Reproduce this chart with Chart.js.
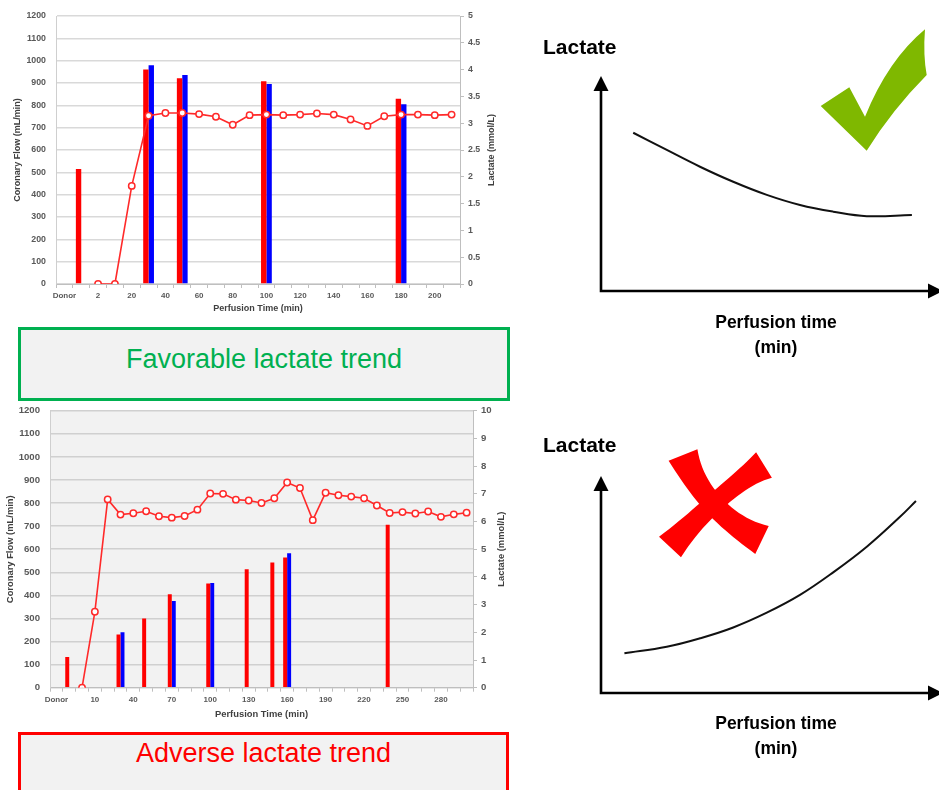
<!DOCTYPE html>
<html>
<head>
<meta charset="utf-8">
<script src="https://cdn.jsdelivr.net/npm/chart.js@4.4.0/dist/chart.umd.min.js"></script>
<style>
  body { margin: 0; width: 939px; height: 790px; overflow: hidden; position: relative; background: #fff;
         font-family: "Liberation Sans", Arial, sans-serif; }
  canvas { position: absolute; }
  .box { position: absolute; box-sizing: border-box; background: #f2f2f2; border: 3px solid; }
  .box div { position: absolute; left: 0; right: 0; text-align: center; font-size: 27px; line-height: 27px; }
  .lbl { position: absolute; font-weight: bold; color: #000; white-space: nowrap; }
</style>
</head>
<body>
<canvas id="favChart" width="500" height="320" style="left:0;top:0"></canvas>
<canvas id="advChart" width="520" height="330" style="left:0;top:395px"></canvas>
<canvas id="favSketch" width="439" height="395" style="left:500px;top:0"></canvas>
<canvas id="advSketch" width="439" height="395" style="left:500px;top:395px"></canvas>

<div class="box" style="left:18px;top:327px;width:492px;height:74px;border-color:#00b050">
  <div style="top:16px;color:#00b050">Favorable lactate trend</div>
</div>
<div class="box" style="left:18px;top:732px;width:491px;height:80px;border-color:#ff0000">
  <div style="top:5px;color:#ff0000">Adverse lactate trend</div>
</div>

<div class="lbl" style="left:543px;top:36px;font-size:21px;line-height:21px">Lactate</div>
<div class="lbl" style="left:676px;top:310px;width:200px;text-align:center;font-size:17.5px;line-height:25px">Perfusion time<br>(min)</div>
<div class="lbl" style="left:543px;top:434px;font-size:21px;line-height:21px">Lactate</div>
<div class="lbl" style="left:676px;top:711px;width:200px;text-align:center;font-size:17.5px;line-height:25px">Perfusion time<br>(min)</div>

<script>
// favorable case (top)
const favLabels = ['Donor', '0', '2', '10', '20', '30', '40', '50', '60', '70', '80', '90', '100',
  '110', '120', '130', '140', '150', '160', '170', '180', '190', '200', '210'];
const favRed = [null, 515, null, null, null, 961, null, 921, null, null, null, null, 908,
  null, null, null, null, null, null, null, 830, null, null, null];
const favBlue = [null, null, null, null, null, 979, null, 936, null, null, null, null, 896,
  null, null, null, null, null, null, null, 805, null, null, null];
const favLactate = [null, null, 0, 0, 1.83, 3.14, 3.19, 3.19, 3.17, 3.12, 2.97, 3.15, 3.16,
  3.15, 3.16, 3.18, 3.16, 3.07, 2.95, 3.13, 3.16, 3.16, 3.15, 3.16];

// adverse case (bottom)
const advLabels = ['Donor', '0', '5', '10', '20', '30', '40', '50', '60', '70', '80', '90', '100',
  '110', '120', '130', '140', '150', '160', '170', '180', '190', '200', '210', '220', '230', '240',
  '250', '260', '270', '280', '290', '300'];
const advRed = [null, 133, null, null, null, 230, null, 300, null, 405, null, null, 452,
  null, null, 513, null, 543, 564, null, null, null, null, null, null, null, 706,
  null, null, null, null, null, null];
const advBlue = [null, null, null, null, null, 240, null, null, null, 376, null, null, 454,
  null, null, null, null, null, 583, null, null, null, null, null, null, null, null,
  null, null, null, null, null, null];
const advLactate = [null, null, 0, 2.74, 6.8, 6.25, 6.3, 6.37, 6.19, 6.14, 6.2, 6.43, 7.01,
  7.0, 6.79, 6.76, 6.67, 6.84, 7.41, 7.21, 6.05, 7.04, 6.95, 6.9, 6.84, 6.58, 6.31,
  6.34, 6.29, 6.36, 6.17, 6.26, 6.32];

// schematic curves (arbitrary units 0-100)
const goodX = [9.8, 19.7, 29.5, 39.3, 49.2, 59, 68.8, 78.7, 92];
const goodY = [73.6, 65.6, 57.8, 50.8, 44.7, 40, 36.9, 34.8, 35.3];
const badX = [7.2, 19.7, 29.5, 39.3, 49.2, 59, 68.8, 78.7, 88.5, 93.2];
const badY = [18.3, 21.3, 25.2, 30.2, 37.0, 45.2, 55.6, 67.4, 81.2, 88.5];

Chart.defaults.font.family = '"Liberation Sans", Arial, sans-serif';

function flowChart(id, o) {
  const rightTitle = {
    id: 'rightTitle',
    afterDraw(chart) {
      const { ctx, chartArea } = chart;
      ctx.save();
      ctx.translate(o.rTitleX, (chartArea.top + chartArea.bottom) / 2);
      ctx.rotate(-Math.PI / 2);
      ctx.font = 'bold ' + o.titleSize + 'px "Liberation Sans"';
      ctx.fillStyle = '#404040';
      ctx.textAlign = 'center';
      ctx.textBaseline = 'middle';
      ctx.fillText('Lactate (mmol/L)', 0, 0);
      ctx.restore();
    }
  };
  const plotBg = {
    id: 'plotBg',
    beforeDraw(chart) {
      if (!o.bg) return;
      const { ctx, chartArea: a } = chart;
      ctx.fillStyle = o.bg;
      ctx.fillRect(a.left, a.top, a.right - a.left, a.bottom - a.top);
    }
  };
  new Chart(document.getElementById(id), {
    type: 'bar',
    data: {
      labels: o.labels,
      datasets: [
        { type: 'line', data: o.lactate, yAxisID: 'y1', order: 0, borderColor: '#ff2a2a', borderWidth: 1.6,
          pointRadius: 3.2, pointBorderWidth: 1.5, pointBackgroundColor: '#fff', pointBorderColor: '#ff2a2a' },
        { data: o.red, backgroundColor: '#ff0000', order: 1, barPercentage: 1, categoryPercentage: o.cat },
        { data: o.blue, backgroundColor: '#0000ff', order: 2, barPercentage: 1, categoryPercentage: o.cat }
      ]
    },
    options: {
      responsive: false,
      animation: false,
      layout: { padding: { top: o.padTop } },
      plugins: { legend: { display: false }, tooltip: { enabled: false } },
      scales: {
        x: {
          afterFit(s) { s.height = o.xH; },
          grid: { drawOnChartArea: false, tickLength: 4, color: '#bfbfbf' },
          border: { color: '#bfbfbf' },
          ticks: {
            autoSkip: false, maxRotation: 0, minRotation: 0, padding: 3, color: '#595959',
            font: { size: 8, weight: 'bold' },
            callback(v, i) { return i % o.step === 0 ? o.labels[i] : ''; }
          },
          title: { display: true, text: 'Perfusion Time (min)', color: '#404040',
            font: { size: o.titleSize, weight: 'bold' }, padding: { top: 0, bottom: o.xTitlePad } }
        },
        y: {
          afterFit(s) { s.width = o.leftW; },
          min: 0, max: 1200,
          grid: { drawTicks: false, color: o.grid, lineWidth: 1.5 },
          border: { color: '#cfcfcf' },
          ticks: { stepSize: 100, padding: 10, color: '#595959', font: { size: o.tickSize, weight: 'bold' },
            callback: v => String(v) },
          title: { display: true, text: 'Coronary Flow (mL/min)', color: '#404040',
            font: { size: o.titleSize, weight: 'bold' }, padding: { top: o.yTitlePad, bottom: 0 } }
        },
        y1: {
          position: 'right',
          afterFit(s) { s.width = o.rightW; },
          min: 0, max: o.lacMax,
          grid: { drawOnChartArea: false, tickLength: 4, color: '#bfbfbf' },
          border: { color: '#bfbfbf' },
          ticks: { stepSize: o.lacStep, padding: 4, color: '#595959', font: { size: o.tickSize, weight: 'bold' },
            callback: v => String(v) }
        }
      }
    },
    plugins: [plotBg, rightTitle]
  });
}

flowChart('favChart', {
  labels: favLabels, red: favRed, blue: favBlue, lactate: favLactate,
  cat: 0.64, padTop: 16, xH: 36, leftW: 56, rightW: 40, step: 2,
  lacMax: 5, lacStep: 0.5, tickSize: 8.8, titleSize: 9, xTitlePad: 5.6, yTitlePad: 12,
  rTitleX: 492, grid: '#d9d9d9', bg: null
});
flowChart('advChart', {
  labels: advLabels, red: advRed, blue: advBlue, lactate: advLactate,
  cat: 0.62, padTop: 12.7, xH: 37.3, leftW: 50, rightW: 47, step: 3,
  lacMax: 10, lacStep: 1, tickSize: 9.6, titleSize: 9.4, xTitlePad: 5.3, yTitlePad: 4.6,
  rTitleX: 501.7, grid: '#d0d0d0', bg: '#f2f2f2'
});

// arrows for the schematic axes
const arrowAxes = {
  id: 'arrowAxes',
  afterDraw(chart) {
    const { ctx, chartArea: a } = chart;
    const x0 = a.left + 1, y0 = a.bottom;
    ctx.save();
    ctx.strokeStyle = '#000';
    ctx.fillStyle = '#000';
    ctx.lineWidth = 2.6;
    ctx.beginPath();
    ctx.moveTo(x0, y0);
    ctx.lineTo(x0, a.top + 12);
    ctx.moveTo(x0 - 1.3, y0);
    ctx.lineTo(a.right - 10, y0);
    ctx.stroke();
    ctx.beginPath();
    ctx.moveTo(x0, a.top);
    ctx.lineTo(x0 - 7.5, a.top + 15);
    ctx.lineTo(x0 + 7.5, a.top + 15);
    ctx.closePath();
    ctx.fill();
    ctx.beginPath();
    ctx.moveTo(a.right + 4, y0);
    ctx.lineTo(a.right - 11, y0 - 7.5);
    ctx.lineTo(a.right - 11, y0 + 7.5);
    ctx.closePath();
    ctx.fill();
    ctx.restore();
  }
};

const checkMark = {
  id: 'checkMark',
  afterDraw(chart) {
    const ctx = chart.ctx;
    ctx.save();
    ctx.fillStyle = '#7fb800';
    ctx.beginPath();
    ctx.moveTo(320.7, 106);
    ctx.lineTo(349.3, 87.3);
    ctx.lineTo(365, 116.7);
    ctx.quadraticCurveTo(388, 60, 425, 29.3);
    ctx.quadraticCurveTo(423, 55, 426.7, 75);
    ctx.quadraticCurveTo(392, 110, 366.7, 150.7);
    ctx.closePath();
    ctx.fill();
    ctx.restore();
  }
};

// brush stroke with flared ends along a quadratic curve
function brush(ctx, p0, c, p1, wMid, wEnd) {
  const n = 24, left = [], right = [];
  for (let i = 0; i <= n; i++) {
    const t = i / n, u = 1 - t;
    const x = u * u * p0[0] + 2 * u * t * c[0] + t * t * p1[0];
    const y = u * u * p0[1] + 2 * u * t * c[1] + t * t * p1[1];
    const dx = 2 * u * (c[0] - p0[0]) + 2 * t * (p1[0] - c[0]);
    const dy = 2 * u * (c[1] - p0[1]) + 2 * t * (p1[1] - c[1]);
    const len = Math.hypot(dx, dy);
    const w = (wMid + (wEnd - wMid) * Math.pow(Math.abs(2 * t - 1), 2.5)) / 2;
    left.push([x - dy / len * w, y + dx / len * w]);
    right.push([x + dy / len * w, y - dx / len * w]);
  }
  ctx.beginPath();
  left.forEach((p, i) => i ? ctx.lineTo(p[0], p[1]) : ctx.moveTo(p[0], p[1]));
  right.reverse().forEach(p => ctx.lineTo(p[0], p[1]));
  ctx.closePath();
  ctx.fill();
}

const redCross = {
  id: 'redCross',
  afterDraw(chart) {
    const ctx = chart.ctx;
    ctx.save();
    ctx.fillStyle = '#ff0000';
    brush(ctx, [183, 60], [206, 118], [262, 145], 21, 31);
    brush(ctx, [264, 70], [222, 96], [170, 152], 19, 30);
    ctx.restore();
  }
};

function sketch(id, xs, ys, padTop, padBottom, icon) {
  new Chart(document.getElementById(id), {
    type: 'line',
    data: {
      datasets: [{
        data: xs.map((x, i) => ({ x: x, y: ys[i] })),
        borderColor: '#111', borderWidth: 2, pointRadius: 0, tension: 0.4
      }]
    },
    options: {
      responsive: false,
      animation: false,
      layout: { padding: { left: 100, right: 0, top: padTop, bottom: padBottom } },
      plugins: { legend: { display: false }, tooltip: { enabled: false } },
      scales: {
        x: { type: 'linear', min: 0, max: 100, display: false },
        y: { min: 0, max: 100, display: false }
      }
    },
    plugins: [arrowAxes, icon]
  });
}

sketch('favSketch', goodX, goodY, 76, 104, checkMark);
sketch('advSketch', badX, badY, 81, 97, redCross);
</script>
</body>
</html>
